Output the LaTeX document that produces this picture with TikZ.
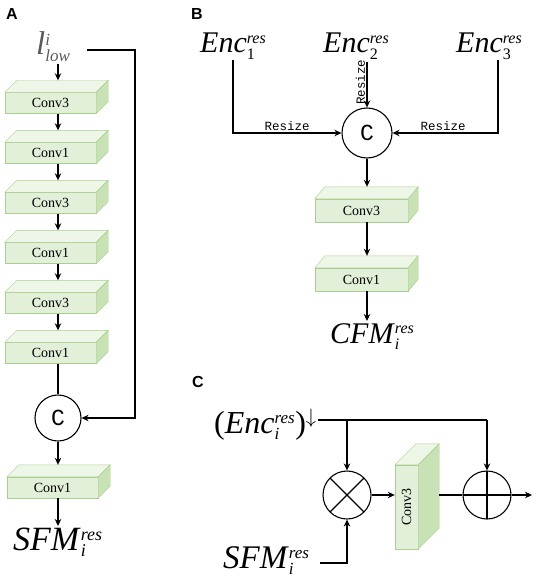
\documentclass[tikz,border=0pt]{standalone}
\usepackage{fontspec}
\setmainfont{Liberation Serif}
\newfontfamily\monofont{Liberation Mono}
\newfontfamily\labelfont{Liberation Sans}
\usetikzlibrary{calc}
\usetikzlibrary{arrows.meta}

\definecolor{boxfront}{HTML}{E2EFD9}
\definecolor{boxtop}{HTML}{EEF6E8}
\definecolor{boxside}{HTML}{C8E2B6}
\definecolor{boxline}{HTML}{A8CF8E}
\definecolor{lowgray}{HTML}{5A5A5A}

% text with stacked res / index
\newcommand{\rs}[3]{\textit{#1}$^{\hbox{\fontsize{#3}{#3}\selectfont\itshape res}}_{\hbox{\fontsize{#3}{#3}\selectfont #2}}$}
% top and side faces of a block
\newcommand{\boxfaces}[3]{%
 \draw[boxline, fill=boxtop] (#1.north west) -- ++(#2,-#3) -- ($(#1.north east)+(#2,-#3)$) -- (#1.north east) -- cycle;
 \draw[boxline, fill=boxside] (#1.north east) -- ++(#2,-#3) -- ($(#1.south east)+(#2,-#3)$) -- (#1.south east) -- cycle;
}

\begin{document}
\begin{tikzpicture}[x=1pt, y=-1pt,
 conv/.style={draw=boxline, fill=boxfront, minimum width=91pt, minimum height=21pt, inner sep=0pt, font=\fontsize{14}{14}\selectfont},
 op/.style={draw, circle, line width=1.1pt, minimum size=46pt, inner sep=0pt, font=\monofont\fontsize{23}{23}\selectfont},
 mult/.style={op, minimum size=48pt, path picture={\draw[line width=1.1pt] (path picture bounding box.north west) -- (path picture bounding box.south east) (path picture bounding box.south west) -- (path picture bounding box.north east);}},
 plus/.style={op, minimum size=48pt, path picture={\draw[line width=1.1pt] (path picture bounding box.north) -- (path picture bounding box.south) (path picture bounding box.west) -- (path picture bounding box.east);}},
 flow/.style={-{Stealth[length=7pt, width=6.5pt]}, line width=1.1pt},
 link/.style={line width=1.1pt},
 lbl/.style={font=\labelfont\bfseries\fontsize{16}{16}\selectfont},
 rsz/.style={font=\monofont\fontsize{12.5}{13}\selectfont, inner sep=1.5pt},
 txt/.style={inner sep=0pt, anchor=base west}]
\useasboundingbox (0,0) rectangle (536,583);

% A
\node[lbl] (labA) at (12,14) {A};
\node[txt, text=lowgray] (llow) at (36,55) {\fontsize{33}{33}\selectfont\textit{l}$^{\hbox{\fontsize{17}{17}\selectfont\itshape i}}_{\hbox{\fontsize{17}{17}\selectfont\itshape low}}$};
\foreach \i/\t in {1/Conv3,2/Conv1,3/Conv3,4/Conv1,5/Conv3,6/Conv1} {
 \node[conv] (a\i) at (50.5,{53+50*\i}) {\t};
 \boxfaces{a\i}{12}{12}
}
\foreach \i/\j in {1/2,2/3,3/4,4/5,5/6} {
 \draw[flow] ($(a\i.south)+(7.5,0)$) -- ($(a\j.north)+(7.5,-12)$);
}
\coordinate (llows) at (58,64);
\draw[flow] (llows) -- ($(a1.north)+(7.5,-12)$);
\node[op] (catA) at (58,418) {C};
\draw[link] ($(a6.south)+(7.5,0)$) -- (catA.north);
\coordinate (loopA) at (87,50);
\draw[flow] (loopA) -- (135,50) |- (catA.east);
\node[conv] (a7) at (52.5,487.5) {Conv1};
\boxfaces{a7}{12}{12}
\draw[flow] (catA.south) -- ($(a7.north)+(5.5,-12)$);
\node[txt] (sfmA) at (13,550) {\fontsize{34}{34}\selectfont\rs{SFM}{\itshape i}{18}};
\draw[flow] ($(a7.south)+(5.5,0)$) -- (58,526);

% B
\node[lbl] (labB) at (197,14) {B};
\node[txt] (e1) at (200,53) {\fontsize{30}{30}\selectfont\rs{Enc}{1}{16}};
\node[txt] (e2) at (323,53) {\fontsize{30}{30}\selectfont\rs{Enc}{2}{16}};
\node[txt] (e3) at (456,53) {\fontsize{30}{30}\selectfont\rs{Enc}{3}{16}};
\node[op, minimum size=50pt] (catB) at (367,133) {C};
\coordinate (e1s) at (233,60);
\coordinate (e2s) at (367,62);
\coordinate (e3s) at (498,60);
\draw[flow] (e1s) |- node[rsz, pos=0.75, above] {Resize} (catB.west);
\draw[flow] (e3s) |- node[rsz, pos=0.76, above] {Resize} (catB.east);
\draw[flow] (e2s) -- node[rsz, pos=0.45, rotate=90, anchor=south] {Resize} (catB.north);
\node[conv, minimum width=93pt, minimum height=23pt] (b1) at (361.5,210.5) {Conv3};
\boxfaces{b1}{10}{12}
\node[conv, minimum width=93pt, minimum height=23pt] (b2) at (361.5,279.5) {Conv1};
\boxfaces{b2}{10}{12}
\draw[flow] (catB.south) -- ($(b1.north)+(5.5,-12)$);
\draw[flow] ($(b1.south)+(5.5,0)$) -- ($(b2.north)+(5.5,-12)$);
\node[txt] (cfm) at (330,343) {\fontsize{30}{30}\selectfont\rs{CFM}{\itshape i}{16}};
\draw[flow] ($(b2.south)+(5.5,0)$) -- (367,321);

% C
\node[lbl] (labC) at (198,382) {C};
\node[txt] (encC) at (214,433) {\fontsize{32}{32}\selectfont(\rs{Enc}{\itshape i}{17})${}^{\downarrow}$};
\node[mult] (mulC) at (347,495) {};
\node[plus] (addC) at (487,495) {};
\coordinate (encCs) at (318,420);
\draw[link] (encCs) -- (addC.north |- encCs);
\draw[flow] (mulC.north |- encCs) -- (mulC.north);
\draw[flow] (addC.north |- encCs) -- (addC.north);
\node[conv, minimum width=23pt, minimum height=84pt] (cvC) at (406.5,507) {\rotatebox{90}{Conv3}};
\boxfaces{cvC}{21}{21}
\draw[flow] (mulC.east) -- (mulC.east -| cvC.west);
\draw[link] ($(mulC.east -| cvC.east)+(21,0)$) -- (addC.west);
\coordinate (outC) at (532,495);
\draw[flow] (addC.east) -- (outC);
\node[txt] (sfmC) at (223,568) {\fontsize{33}{33}\selectfont\rs{SFM}{\itshape i}{17}};
\coordinate (sfmCs) at (320,563);
\draw[flow] (sfmCs) -| (mulC.south);
\end{tikzpicture}
\end{document}
